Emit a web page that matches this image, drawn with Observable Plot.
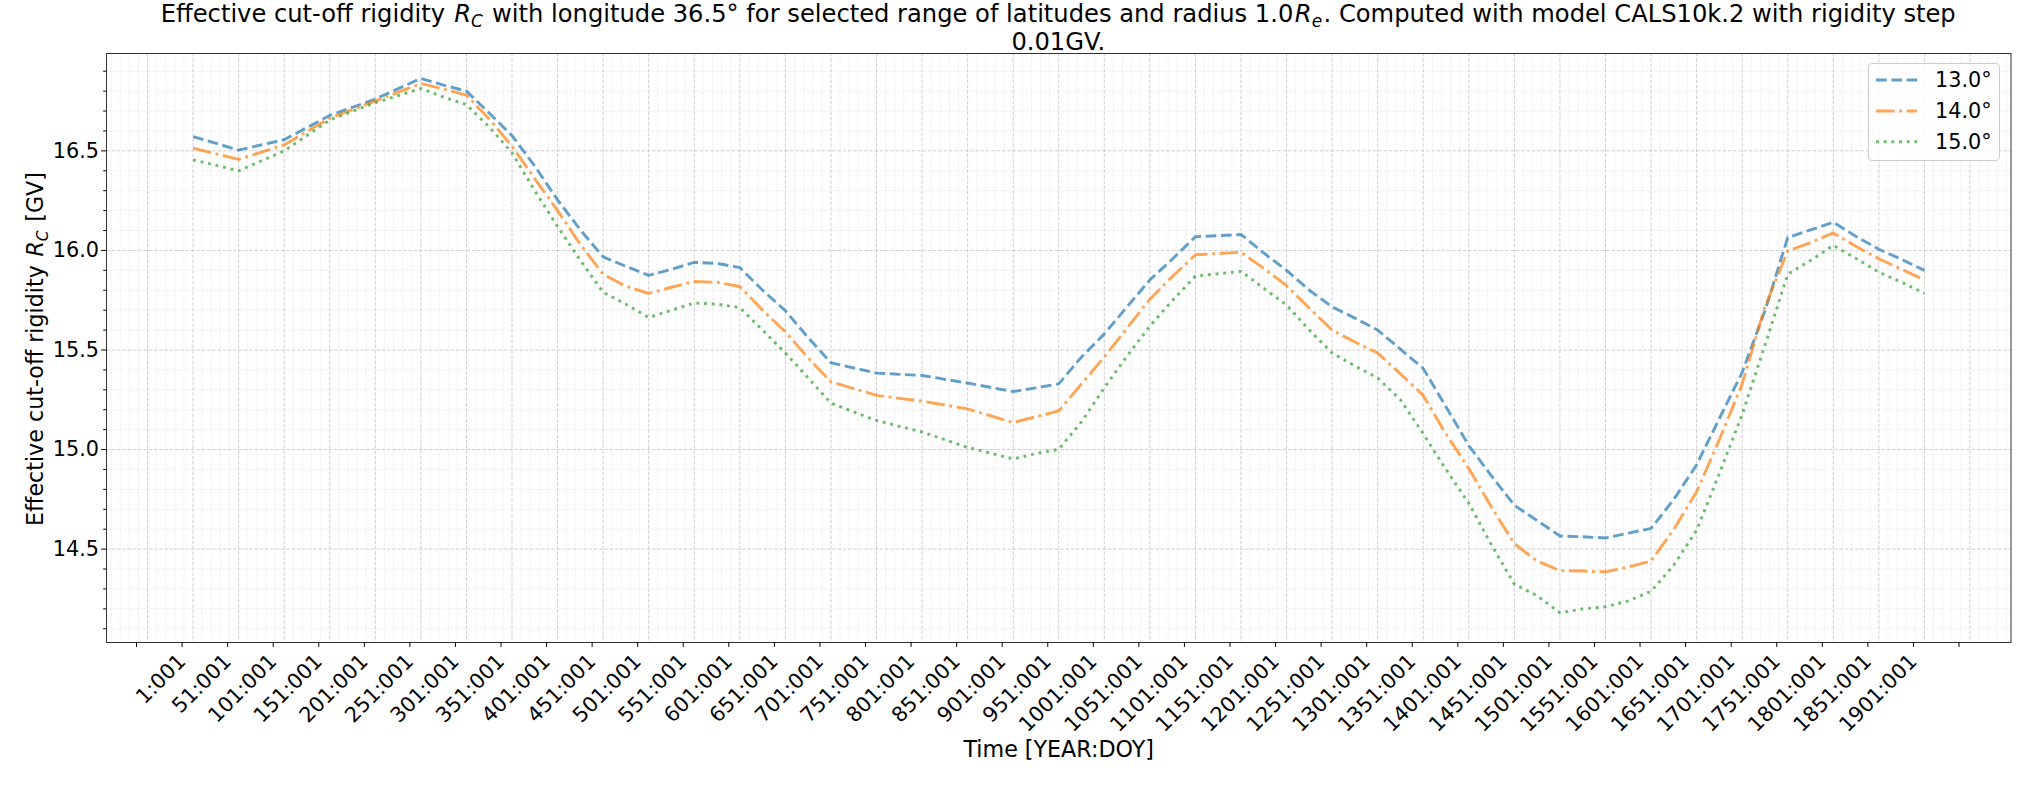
<!DOCTYPE html>
<html><head><meta charset="utf-8">
<script src="https://cdn.jsdelivr.net/npm/d3@7"></script>
<script src="https://cdn.jsdelivr.net/npm/@observablehq/plot@0.6"></script>
<style>
body{margin:0;background:#fff;font-family:"DejaVu Sans",sans-serif;}
#wrap{position:relative;width:2035px;height:785px;overflow:hidden;background:#fff;}
#title{position:absolute;left:106px;width:1904.5px;top:1px;text-align:center;font-size:24.2px;line-height:27.5px;color:#000;white-space:nowrap;}
#chart{position:absolute;left:0;top:48px;}
#chart svg text{font-family:"DejaVu Sans";font-size:20.8px;fill:#000;}
#chart svg g[aria-label="x-axis label"] text{font-size:22.2px;}
#ylabel{position:absolute;left:35.2px;top:348.5px;transform:translate(-50%,-50%) rotate(-90deg);font-size:22.2px;line-height:24px;white-space:nowrap;color:#000;}
#legend{position:absolute;left:1868px;top:63px;width:132px;height:98px;border:1px solid #cccccc;border-radius:4px;background:rgba(255,255,255,0.8);box-sizing:border-box;}
.m{padding:0 1.5px;}
sub{font-size:70%;vertical-align:baseline;position:relative;top:0.3em;line-height:0;}
</style></head>
<body>
<div id="wrap">
  <div id="chart"></div>
  <div id="title">Effective cut-off rigidity <span class="m"><i>R</i><sub><i>C</i></sub></span> with longitude 36.5° for selected range of latitudes and radius 1.0<span class="m"><i>R</i><sub><i>e</i></sub></span>. Computed with model CALS10k.2 with rigidity step<br>0.01GV.</div>
  <div id="ylabel">Effective cut-off rigidity <span class="m"><i>R</i><sub><i>C</i></sub></span> [GV]</div>
  <div id="legend"></div>
</div>
<script>
// ---- data ----
const years = [1,51,101,151,201,251,276,301,326,351,376,401,426,451,476,501,526,551,576,601,626,651,676,701,751,801,851,901,926,951,976,1001,1026,1051,1076,1101,1151,1176,1201,1226,1251,1276,1301,1326,1351,1376,1401,1426,1451,1476,1501,1526,1551,1576,1601,1626,1651,1676,1701,1726,1751,1776,1801,1826,1851,1876,1901];
const lat13 = [16.572,16.504,16.556,16.678,16.760,16.864,16.830,16.800,16.690,16.577,16.423,16.254,16.103,15.968,15.920,15.875,15.905,15.940,15.935,15.914,15.800,15.697,15.562,15.436,15.384,15.372,15.334,15.291,15.310,15.330,15.465,15.581,15.717,15.852,15.958,16.069,16.080,15.987,15.900,15.800,15.717,15.660,15.600,15.504,15.407,15.214,15.020,14.867,14.720,14.643,14.566,14.562,14.556,14.580,14.604,14.750,14.924,15.156,15.388,15.697,16.065,16.103,16.142,16.070,16.006,15.955,15.900];
const lat14 = [16.514,16.457,16.530,16.664,16.751,16.838,16.810,16.780,16.660,16.523,16.360,16.200,16.030,15.880,15.820,15.784,15.815,15.844,15.840,15.819,15.700,15.591,15.460,15.340,15.272,15.243,15.204,15.136,15.165,15.194,15.330,15.465,15.610,15.755,15.870,15.978,15.991,15.910,15.823,15.710,15.600,15.540,15.485,15.380,15.272,15.078,14.905,14.710,14.527,14.440,14.392,14.390,14.386,14.410,14.440,14.600,14.788,15.050,15.330,15.717,15.997,16.040,16.088,16.020,15.958,15.905,15.852];
const lat15 = [16.455,16.400,16.500,16.655,16.742,16.813,16.770,16.732,16.620,16.490,16.300,16.120,15.950,15.790,15.730,15.663,15.700,15.736,15.730,15.713,15.600,15.485,15.360,15.233,15.146,15.088,15.011,14.953,14.980,15.001,15.140,15.310,15.470,15.620,15.750,15.871,15.895,15.810,15.726,15.600,15.485,15.420,15.359,15.250,15.079,14.900,14.730,14.520,14.324,14.266,14.180,14.200,14.210,14.240,14.288,14.420,14.595,14.880,15.176,15.524,15.880,15.950,16.025,15.960,15.891,15.840,15.784];
const seriesNames = ["13.0°","14.0°","15.0°"];
const seriesColors = ["#1f77b4","#ff7f0e","#2ca02c"];
const seriesDash = ["10.7,4.6","18.6,4.6,2.9,4.6","2.9,4.8"];

// ticks
const xTicks = d3.range(-49, 1952, 50);          // tick positions (years)
const xLabelYears = d3.range(1, 1902, 50);       // labelled ticks
const xMinor = d3.range(-89, 1996, 10).filter(v => (v - 1) % 50 !== 0);
const yTicks = [14.5, 15.0, 15.5, 16.0, 16.5];
const yMinor = d3.range(141, 170).filter(v => v % 5 !== 0).map(v => v / 10);

// ---- build table ----
const allSeries = [lat13, lat14, lat15];
const rows = [];
allSeries.forEach((vals, s) => years.forEach((yr, i) => rows.push({year: yr, value: vals[i], lat: seriesNames[s]})));

const lineMarks = seriesNames.map((name, s) =>
  Plot.line(rows.filter(d => d.lat === name), {
    x: "year", y: "value", stroke: seriesColors[s], strokeOpacity: 0.7,
    strokeWidth: 2.9, strokeDasharray: seriesDash[s], strokeLinejoin: "round", strokeLinecap: "butt"
  })
);

const chart = Plot.plot({
  width: 2035, height: 737,
  marginTop: 5, marginBottom: 143, marginLeft: 106, marginRight: 24.5,
  x: {domain: [-94, 1996]},
  y: {domain: [14.031, 16.989]},
  style: {fontFamily: "DejaVu Sans", fontSize: "20.8px", color: "#000", background: "#fff", overflow: "visible"},
  marks: [
    Plot.gridX(xMinor, {stroke: "#e8e8e8", strokeOpacity: 1, strokeWidth: 0.7, strokeDasharray: "3,1.3"}),
    Plot.gridY(yMinor, {stroke: "#e8e8e8", strokeOpacity: 1, strokeWidth: 0.7, strokeDasharray: "3,1.3"}),
    Plot.gridX(xTicks, {stroke: "#c4c4c4", strokeOpacity: 1, strokeWidth: 0.8, strokeDasharray: "3.7,1.6"}),
    Plot.gridY(yTicks, {stroke: "#c4c4c4", strokeOpacity: 1, strokeWidth: 0.8, strokeDasharray: "3.7,1.6"}),
    ...lineMarks,
    Plot.frame({stroke: "#333", strokeWidth: 1}),
    Plot.axisY(yTicks, {tickFormat: d => d.toFixed(1), tickSize: 4.9, tickPadding: 2.5, label: null}),
    Plot.axisY(yMinor, {tickFormat: () => "", tickSize: 2.8, label: null}),
    Plot.axisX(xTicks, {
      tickFormat: d => xLabelYears.includes(d) ? `${d}:001` : "",
      tickRotate: -45, tickSize: 4.9, tickPadding: 10.5, dx: -11,
      label: null
    }),
    Plot.axisX(xTicks, {
      tickFormat: () => "", tickSize: 0,
      label: "Time [YEAR:DOY]", labelAnchor: "center", labelArrow: "none", labelOffset: 114
    })
  ]
});
document.getElementById("chart").appendChild(chart);

// ---- legend ----
const ns = "http://www.w3.org/2000/svg";
const lg = document.createElementNS(ns, "svg");
lg.setAttribute("width", 132); lg.setAttribute("height", 98);
lg.style.position = "absolute"; lg.style.left = "-1px"; lg.style.top = "-1px";
const rowY = [17, 48, 78.7];
seriesNames.forEach((name, s) => {
  const l = document.createElementNS(ns, "line");
  l.setAttribute("x1", 8); l.setAttribute("x2", 49);
  l.setAttribute("y1", rowY[s]); l.setAttribute("y2", rowY[s]);
  l.setAttribute("stroke", seriesColors[s]); l.setAttribute("stroke-opacity", 0.7);
  l.setAttribute("stroke-width", 2.9); l.setAttribute("stroke-dasharray", seriesDash[s]);
  lg.appendChild(l);
  const t = document.createElementNS(ns, "text");
  t.setAttribute("x", 67); t.setAttribute("y", rowY[s]);
  t.setAttribute("dy", "0.35em");
  t.setAttribute("font-family", "DejaVu Sans"); t.setAttribute("font-size", "20.8px");
  t.textContent = name;
  lg.appendChild(t);
});
document.getElementById("legend").appendChild(lg);
</script>
</body></html>
